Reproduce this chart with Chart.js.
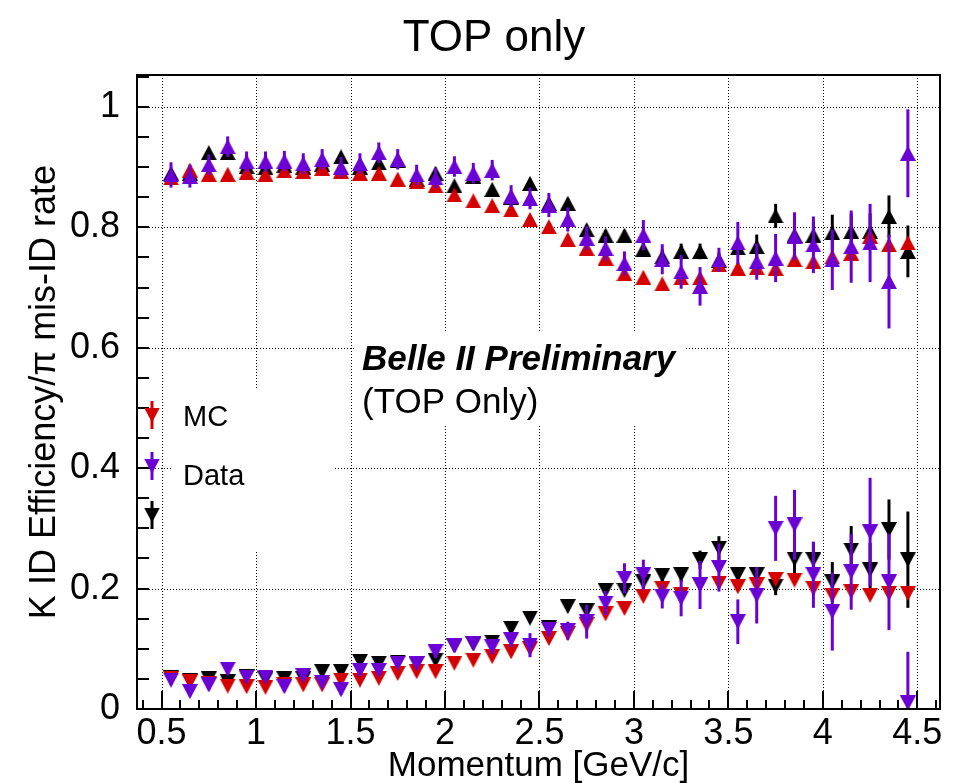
<!DOCTYPE html>
<html>
<head>
<meta charset="utf-8">
<script src="https://cdn.jsdelivr.net/npm/chart.js@4.4.1/dist/chart.umd.min.js"></script>
<style>
  body { margin: 0; background: #fff; }
</style>
</head>
<body>
<canvas id="chart" width="969" height="783"></canvas>
<script>
// bin centres [GeV/c]
let momentum = [
  0.55, 0.65, 0.75, 0.85, 0.95, 1.05, 1.15, 1.25, 1.35, 1.45,
  1.55, 1.65, 1.75, 1.85, 1.95, 2.05, 2.15, 2.25, 2.35, 2.45,
  2.55, 2.65, 2.75, 2.85, 2.95, 3.05, 3.15, 3.25, 3.35, 3.45,
  3.55, 3.65, 3.75, 3.85, 3.95, 4.05, 4.15, 4.25, 4.35, 4.45,
];

// K efficiency (up triangles)
let effMC = [
  0.882, 0.895, 0.888, 0.888, 0.891, 0.888, 0.894, 0.893, 0.898, 0.893,
  0.890, 0.890, 0.880, 0.876, 0.869, 0.854, 0.844, 0.836, 0.829, 0.813,
  0.801, 0.780, 0.765, 0.749, 0.723, 0.717, 0.706, 0.716, 0.716, 0.738,
  0.732, 0.733, 0.732, 0.746, 0.743, 0.751, 0.757, 0.785, 0.771, 0.774,
];
let effData = [
  0.887, 0.885, 0.904, 0.934, 0.909, 0.909, 0.910, 0.906, 0.913, 0.900,
  0.906, 0.924, 0.913, 0.887, 0.882, 0.901, 0.890, 0.895, 0.852, 0.848,
  0.837, 0.813, 0.782, 0.765, 0.740, 0.787, 0.747, 0.726, 0.702, 0.746,
  0.774, 0.743, 0.749, 0.785, 0.771, 0.746, 0.768, 0.774, 0.710, 0.923,
];
let effOther = [
  0.890, 0.890, 0.924, 0.924, 0.901, 0.899, 0.903, 0.900, 0.905, 0.917,
  0.900, 0.907, 0.911, 0.880, 0.890, 0.869, 0.885, 0.863, 0.850, 0.873,
  0.840, 0.840, 0.796, 0.787, 0.787, 0.764, 0.751, 0.760, 0.760, 0.745,
  0.766, 0.768, 0.819, 0.787, 0.787, 0.791, 0.793, 0.793, 0.818, 0.760,
];

// pi mis-ID rate (down triangles)
let misMC = [
  0.051, 0.045, 0.042, 0.038, 0.037, 0.036, 0.040, 0.040, 0.040, 0.048,
  0.048, 0.051, 0.059, 0.062, 0.062, 0.076, 0.081, 0.087, 0.095, 0.100,
  0.117, 0.125, 0.140, 0.158, 0.167, 0.187, 0.200, 0.190, 0.207, 0.209,
  0.203, 0.206, 0.215, 0.214, 0.200, 0.189, 0.195, 0.189, 0.192, 0.192,
];
let misData = [
  0.048, 0.029, 0.040, 0.066, 0.053, 0.053, 0.037, 0.055, 0.044, 0.032,
  0.064, 0.064, 0.076, 0.075, 0.095, 0.105, 0.109, 0.103, 0.115, 0.106,
  0.132, 0.130, 0.145, 0.176, 0.217, 0.223, 0.187, 0.184, 0.206, 0.235,
  0.145, 0.189, 0.300, 0.306, 0.223, 0.162, 0.228, 0.294, 0.211, 0.010,
];
let misOther = [
  0.052, 0.047, 0.050, 0.045, 0.054, 0.050, 0.050, 0.050, 0.062, 0.062,
  0.079, 0.076, 0.078, 0.076, 0.081, 0.105, 0.108, 0.111, 0.134, 0.151,
  0.135, 0.170, 0.163, 0.197, 0.197, 0.211, 0.222, 0.223, 0.248, 0.267,
  0.223, 0.223, 0.204, 0.249, 0.248, 0.211, 0.264, 0.231, 0.298, 0.248,
];

// symmetric errors
let effMCErr = [
  0.004, 0.004, 0.004, 0.004, 0.004, 0.004, 0.004, 0.004, 0.004, 0.004,
  0.004, 0.004, 0.004, 0.004, 0.004, 0.004, 0.004, 0.004, 0.004, 0.004,
  0.004, 0.004, 0.004, 0.004, 0.004, 0.004, 0.004, 0.004, 0.004, 0.004,
  0.005, 0.005, 0.005, 0.006, 0.006, 0.006, 0.007, 0.007, 0.008, 0.008,
];
let effDataErr = [
  0.021, 0.019, 0.017, 0.017, 0.017, 0.017, 0.017, 0.017, 0.017, 0.017,
  0.017, 0.017, 0.017, 0.017, 0.017, 0.017, 0.017, 0.017, 0.018, 0.018,
  0.020, 0.020, 0.020, 0.020, 0.020, 0.025, 0.025, 0.028, 0.032, 0.020,
  0.035, 0.030, 0.040, 0.040, 0.047, 0.050, 0.060, 0.065, 0.078, 0.073,
];
let effOtherErr = [
  0.006, 0.006, 0.006, 0.006, 0.006, 0.006, 0.006, 0.006, 0.006, 0.006,
  0.006, 0.006, 0.006, 0.006, 0.006, 0.006, 0.006, 0.006, 0.006, 0.006,
  0.006, 0.008, 0.008, 0.008, 0.008, 0.012, 0.012, 0.013, 0.013, 0.013,
  0.012, 0.020, 0.020, 0.020, 0.022, 0.030, 0.030, 0.030, 0.035, 0.043,
];
let misMCErr = [
  0.003, 0.003, 0.003, 0.003, 0.003, 0.003, 0.003, 0.003, 0.003, 0.003,
  0.003, 0.003, 0.003, 0.003, 0.003, 0.003, 0.003, 0.003, 0.003, 0.003,
  0.003, 0.003, 0.003, 0.003, 0.003, 0.003, 0.003, 0.003, 0.003, 0.003,
  0.005, 0.005, 0.005, 0.005, 0.005, 0.005, 0.005, 0.005, 0.005, 0.005,
];
let misDataErr = [
  0.008, 0.008, 0.008, 0.008, 0.008, 0.008, 0.008, 0.008, 0.008, 0.008,
  0.008, 0.008, 0.008, 0.008, 0.010, 0.010, 0.010, 0.012, 0.012, 0.020,
  0.012, 0.015, 0.028, 0.020, 0.025, 0.025, 0.020, 0.030, 0.040, 0.040,
  0.037, 0.047, 0.054, 0.058, 0.055, 0.065, 0.063, 0.090, 0.080, 0.085,
];
let misOtherErr = [
  0.006, 0.006, 0.006, 0.006, 0.006, 0.006, 0.006, 0.006, 0.006, 0.006,
  0.006, 0.006, 0.006, 0.006, 0.006, 0.006, 0.006, 0.006, 0.006, 0.006,
  0.006, 0.006, 0.006, 0.006, 0.006, 0.012, 0.012, 0.012, 0.015, 0.020,
  0.012, 0.012, 0.015, 0.035, 0.028, 0.033, 0.040, 0.045, 0.050, 0.080,
];

// axes
let xTicks = [0.5, 1, 1.5, 2, 2.5, 3, 3.5, 4, 4.5];
let xTickLabels = ["0.5", "1", "1.5", "2", "2.5", "3", "3.5", "4", "4.5"];
let yTicks = [0, 0.2, 0.4, 0.6, 0.8, 1];
let yTickLabels = ["0", "0.2", "0.4", "0.6", "0.8", "1"];

let red = "#d40000";
let violet = "#6a00d4";
let black = "#000000";
let font = "'Liberation Sans', Arial, sans-serif";

function triangle(color, down) {
  let c = document.createElement("canvas");
  c.width = 16;
  c.height = 15;
  let g = c.getContext("2d");
  g.fillStyle = color;
  g.beginPath();
  if (down) {
    g.moveTo(0, 0);
    g.lineTo(16, 0);
    g.lineTo(8, 15);
  } else {
    g.moveTo(0, 15);
    g.lineTo(16, 15);
    g.lineTo(8, 0);
  }
  g.closePath();
  g.fill();
  return c;
}

function series(label, color, values, errors, down, order) {
  return {
    label: label,
    data: momentum.map((x, i) => ({ x: x, y: values[i] })),
    errors: errors,
    showLine: false,
    pointStyle: triangle(color, down),
    pointRadius: 8,
    borderColor: color,
    backgroundColor: color,
    order: order,
  };
}

let datasets = [
  series("MC", red, effMC, effMCErr, false, 1),
  series("Data", violet, effData, effDataErr, false, 0),
  series("", black, effOther, effOtherErr, false, 2),
  series("MC", red, misMC, misMCErr, true, 1),
  series("Data", violet, misData, misDataErr, true, 0),
  series("", black, misOther, misOtherErr, true, 2),
];

// ROOT-like frame, dotted grid, inner ticks, error bars, legend and labels
let rootStyle = {
  id: "rootStyle",
  beforeDatasetsDraw(chart) {
    let { ctx, chartArea: a, scales } = chart;
    ctx.save();
    ctx.strokeStyle = "#000";
    ctx.lineWidth = 1;
    ctx.setLineDash([1, 2]);
    xTicks.forEach((v) => {
      let px = Math.round(scales.x.getPixelForValue(v)) + 0.5;
      ctx.beginPath();
      ctx.moveTo(px, a.top);
      ctx.lineTo(px, a.bottom);
      ctx.stroke();
    });
    yTicks.forEach((v) => {
      if (v === 0) return;
      let py = Math.round(scales.y.getPixelForValue(v)) + 0.5;
      ctx.beginPath();
      ctx.moveTo(a.left, py);
      ctx.lineTo(a.right, py);
      ctx.stroke();
    });
    ctx.setLineDash([]);
    // white boxes behind legend and text
    ctx.fillStyle = "#fff";
    ctx.fillRect(173, 390, 160, 160);
    ctx.fillRect(355, 333, 330, 92);
    ctx.restore();
  },
  beforeDatasetDraw(chart, args) {
    let ds = chart.data.datasets[args.index];
    let { ctx, chartArea: a, scales } = chart;
    ctx.save();
    ctx.beginPath();
    ctx.rect(a.left, a.top, a.width, a.height);
    ctx.clip();
    ctx.strokeStyle = ds.borderColor;
    ctx.lineWidth = 3;
    ds.data.forEach((p, i) => {
      let e = ds.errors[i];
      let px = scales.x.getPixelForValue(p.x);
      ctx.beginPath();
      ctx.moveTo(px, scales.y.getPixelForValue(p.y - e));
      ctx.lineTo(px, scales.y.getPixelForValue(p.y + e));
      ctx.stroke();
    });
    ctx.restore();
  },
  afterDatasetsDraw(chart) {
    let { ctx, chartArea: a, scales } = chart;
    ctx.save();
    ctx.strokeStyle = "#000";
    ctx.lineWidth = 2;
    ctx.strokeRect(a.left, a.top, a.width, a.height);

    // x ticks every 0.1, longer every 0.5
    for (let k = 4; k <= 46; k++) {
      let v = k / 10;
      if (v < scales.x.min || v > scales.x.max) continue;
      let px = Math.round(scales.x.getPixelForValue(v));
      let len = k % 5 === 0 ? 18 : 9;
      ctx.beginPath();
      ctx.moveTo(px, a.bottom);
      ctx.lineTo(px, a.bottom - len);
      ctx.stroke();
    }
    // y ticks every 0.05
    for (let k = 1; k <= 21; k++) {
      let v = k * 0.05;
      if (v > scales.y.max) continue;
      let py = Math.round(scales.y.getPixelForValue(v));
      ctx.beginPath();
      ctx.moveTo(a.left, py);
      ctx.lineTo(a.left + 12, py);
      ctx.stroke();
    }

    // legend (the pi mis-ID markers)
    let rows = [
      { my: 415, ty: 418 },
      { my: 466, ty: 477 },
      { my: 515, ty: 527 },
    ];
    ctx.font = "29px " + font;
    ctx.textBaseline = "middle";
    ctx.textAlign = "left";
    [3, 4, 5].forEach((idx, r) => {
      let ds = chart.data.datasets[idx];
      let row = rows[r];
      ctx.strokeStyle = ds.borderColor;
      ctx.lineWidth = 3;
      ctx.beginPath();
      ctx.moveTo(152, row.my - 14);
      ctx.lineTo(152, row.my + 14);
      ctx.stroke();
      ctx.drawImage(ds.pointStyle, 152 - 8, row.my - 7.5);
      ctx.fillStyle = "#000";
      ctx.fillText(ds.label, 183, row.ty);
    });

    ctx.textBaseline = "alphabetic";
    ctx.fillStyle = "#000";
    ctx.font = "italic bold 35px " + font;
    ctx.fillText("Belle II Preliminary", 362, 370);
    ctx.font = "35px " + font;
    ctx.fillText("(TOP Only)", 362, 413);

    // title
    ctx.textAlign = "center";
    ctx.font = "44px " + font;
    ctx.fillText("TOP only", 494, 51);
    ctx.restore();
  },
};

new Chart("chart", {
  type: "scatter",
  data: { datasets: datasets },
  options: {
    responsive: false,
    animation: false,
    events: [],
    layout: { padding: { top: 75, right: 29, left: 0, bottom: 0 } },
    plugins: {
      legend: { display: false },
      tooltip: { enabled: false },
      title: { display: false },
    },
    scales: {
      x: {
        type: "linear",
        min: 0.37,
        max: 4.62,
        grid: { display: false },
        border: { display: false },
        afterBuildTicks: (s) => {
          s.ticks = xTicks.map((v) => ({ value: v }));
        },
        afterFit: (s) => {
          s.height = 74;
        },
        ticks: {
          autoSkip: false,
          maxRotation: 0,
          padding: -5,
          color: "#000",
          font: { family: font, size: 36 },
          callback: (v, i) => xTickLabels[i],
        },
        title: {
          display: true,
          text: "Momentum [GeV/c]",
          color: "#000",
          font: { family: font, size: 35, lineHeight: 1 },
          padding: { top: 0, bottom: -1 },
        },
      },
      y: {
        type: "linear",
        min: 0,
        max: 1.053,
        grid: { display: false },
        border: { display: false },
        afterBuildTicks: (s) => {
          s.ticks = yTicks.map((v) => ({ value: v }));
        },
        afterFit: (s) => {
          s.width = 137;
        },
        ticks: {
          autoSkip: false,
          padding: 9,
          color: "#000",
          font: { family: font, size: 36 },
          callback: (v, i) => yTickLabels[i],
        },
        title: {
          display: true,
          text: "K ID Efficiency/π mis-ID rate",
          color: "#000",
          font: { family: font, size: 36, lineHeight: 1 },
          padding: { top: 27, bottom: 0 },
        },
      },
    },
  },
  plugins: [rootStyle],
});
</script>
</body>
</html>
